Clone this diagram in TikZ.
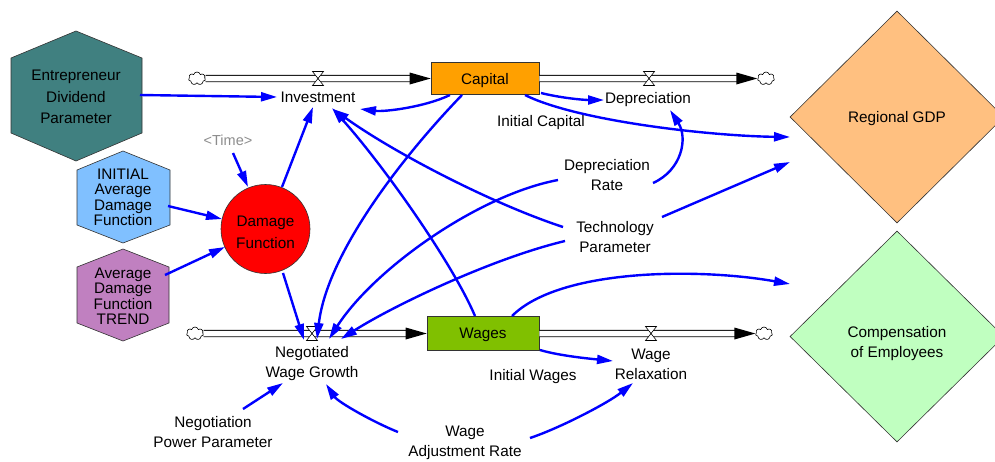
\documentclass[tikz,border=0pt]{standalone}
\usepackage{fontspec}
\setmainfont{Liberation Sans}
\usetikzlibrary{arrows.meta,shapes.geometric,shapes.symbols}
\definecolor{edpcol}{HTML}{408080}
\definecolor{initcol}{HTML}{80C0FF}
\definecolor{trendcol}{HTML}{C080C0}
\definecolor{capcol}{HTML}{FFA000}
\definecolor{wagecol}{HTML}{80C000}
\definecolor{gdpcol}{HTML}{FFC080}
\definecolor{compcol}{HTML}{C0FFC0}
\definecolor{linkcol}{HTML}{0000FF}
\begin{document}
\begin{tikzpicture}[x=1pt,y=-1pt,
  lbl/.style={inner sep=0pt, align=center, font=\fontsize{15.3}{20}\selectfont, text=black},
  onelbl/.style={inner sep=0pt, font=\fontsize{15.3}{20}\selectfont, text=black, text depth=0pt},
  link/.style={draw=linkcol, line width=2.4pt, -{Triangle[length=16pt,width=9pt]}},
  pipe/.style={draw=black, line width=0.9pt, double=white, double distance=5.5pt},
  valvestyle/.style={draw=black, fill=white, line width=0.6pt},
  cloudnode/.style={cloud, cloud puffs=7, draw, fill=white, line width=0.6pt, minimum width=17pt, minimum height=13pt, inner sep=0pt, aspect=1.3},
  stockbox/.style={draw=black!80, line width=0.7pt, inner sep=0pt, font=\fontsize{15.3}{20}\selectfont, text depth=0pt},
  shapeline/.style={draw=black!80, line width=0.6pt}
]
\useasboundingbox (0,0) rectangle (995,461);

% diamonds
\node[diamond, shapeline, fill=gdpcol, minimum width=214pt, minimum height=212pt, inner sep=0pt, font=\fontsize{15.3}{20}\selectfont, text depth=0pt] (gdp) at (897,117) {Regional GDP};
\node[diamond, shapeline, fill=compcol, minimum width=214pt, minimum height=211pt, inner sep=0pt] (compd) at (897,336.5) {};
\node[lbl] (comp) at (897,344) {Compensation\\of Employees};

% hexagons
\draw[shapeline, fill=edpcol] (76,31) -- (142,58) -- (142,133) -- (76,161) -- (11,133) -- (11,58) -- cycle;
\node[lbl, font=\fontsize{15.3}{21.5}\selectfont] (edp) at (76,97) {Entrepreneur\\Dividend\\Parameter};
\draw[shapeline, fill=initcol] (123,151) -- (170,170) -- (170,225) -- (123,243) -- (77,225) -- (77,170) -- cycle;
\node[lbl, font=\fontsize{15.3}{15.5}\selectfont] (init) at (123,197.5) {INITIAL\\Average\\Damage\\Function};
\draw[shapeline, fill=trendcol] (123,249) -- (169,267) -- (169,323) -- (123,341) -- (77,323) -- (77,267) -- cycle;
\node[lbl, font=\fontsize{15.3}{15.5}\selectfont] (trend) at (123,296) {Average\\Damage\\Function\\TREND};

% damage function
\node[circle, shapeline, fill=red, minimum size=89pt, inner sep=0pt] (dmg) at (265.5,229) {};
\node[lbl, font=\fontsize{15.3}{22}\selectfont] (dmgtext) at (265.5,232) {Damage\\Function};
\node[lbl, text=black!45, font=\fontsize{14.5}{18}\selectfont] (time) at (228,140) {<Time>};

% stocks
\node[stockbox, fill=capcol, minimum width=108pt, minimum height=32pt] (cap) at (485,78.5) {Capital};
\node[stockbox, fill=wagecol, minimum width=112pt, minimum height=34pt] (wages) at (483,333.5) {Wages};

% clouds
\node[cloudnode] (c1) at (197,78.5) {};
\node[cloudnode] (c2) at (766,78.5) {};
\node[cloudnode] (c3) at (195,333.5) {};
\node[cloudnode] (c4) at (764,333.5) {};

% pipes
\draw[pipe] (c1.east) -- ([xshift=-19pt]cap.west);
\fill ([shift={(-21,-6)}]cap.west) -- (cap.west) -- ([shift={(-21,6)}]cap.west) -- cycle;
\draw[pipe] (cap.east) -- ([xshift=-19pt]c2.west);
\fill ([shift={(-21,-6)}]c2.west) -- (c2.west) -- ([shift={(-21,6)}]c2.west) -- cycle;
\draw[pipe] (c3.east) -- ([xshift=-19pt]wages.west);
\fill ([shift={(-21,-6)}]wages.west) -- (wages.west) -- ([shift={(-21,6)}]wages.west) -- cycle;
\draw[pipe] (wages.east) -- ([xshift=-19pt]c4.west);
\fill ([shift={(-21,-6)}]c4.west) -- (c4.west) -- ([shift={(-21,6)}]c4.west) -- cycle;

% valves
\coordinate (v1) at (318,78.5);
\coordinate (v2) at (649,78.5);
\coordinate (v3) at (312,333.5);
\coordinate (v4) at (651,333.5);
\foreach \v in {v1,v2,v3,v4}{
  \draw[valvestyle] ([shift={(-5.5,-7)}]\v) -- ([shift={(5.5,-7)}]\v) -- ([shift={(-5.5,7)}]\v) -- ([shift={(5.5,7)}]\v) -- cycle;
}

% labels
\node[onelbl] (inv) at (318,97) {Investment};
\node[onelbl] (dep) at (648,98) {Depreciation};
\node[onelbl] (icap) at (541,121) {Initial Capital};
\node[lbl] (deprate) at (607,175.5) {Depreciation\\Rate};
\node[lbl] (tech) at (615,237) {Technology\\Parameter};
\node[lbl] (nwg) at (312,364) {Negotiated\\Wage Growth};
\node[lbl] (wrel) at (651,364) {Wage\\Relaxation};
\node[onelbl] (iwag) at (533,375) {Initial Wages};
\node[lbl] (npp) at (213,432) {Negotiation\\Power Parameter};
\node[lbl] (war) at (465,443) {Wage\\Adjustment Rate};

% links
\draw[link] ([shift={(64,-2)}]edp.center) -- ([shift={(-41,0)}]inv.center);
\draw[link] ([shift={(-35,16.5)}]cap.center) .. controls +(-25,12) and +(25,3) .. ([shift={(42,12)}]inv.center);
\draw[link] ([shift={(16.5,-42)}]dmg.center) -- ([shift={(-5,10)}]inv.center);
\draw[link] ([shift={(-8,-17.5)}]wages.center) .. controls +(-22,-52) and +(52,58) .. ([shift={(14,11)}]inv.center);
\draw[link] ([shift={(-52,-10)}]tech.center) .. controls +(-73,-24) and +(60,43) .. ([shift={(15,12)}]inv.center);
\draw[link] ([shift={(-23,16.5)}]cap.center) .. controls +(-60,62) and +(10,-85) .. ([shift={(5,-25)}]nwg.center);
\draw[link] ([shift={(17.5,44)}]dmg.center) -- ([shift={(-8,-24)}]nwg.center);
\draw[link] ([shift={(-49,4.5)}]deprate.center) .. controls +(-80,15) and +(45,-70) .. ([shift={(17,-25)}]nwg.center);
\draw[link] ([shift={(-50,4)}]tech.center) .. controls +(-75,18) and +(50,-32) .. ([shift={(29,-25)}]nwg.center);
\draw[link] ([shift={(46,7.5)}]deprate.center) .. controls +(29,-13) and +(18,28) .. ([shift={(22,12)}]dep.center);
\draw[link] ([shift={(56,14.5)}]cap.center) .. controls +(20,5) and +(-20,0) .. ([shift={(-44,2)}]dep.center);
\draw[link] ([shift={(40,16.5)}]cap.center) .. controls +(52,26) and +(-80,-1) .. ([shift={(-107,20)}]gdp.center);
\draw[link] ([shift={(47,-20)}]tech.center) -- ([shift={(-107,45)}]gdp.center);
\draw[link] ([shift={(29,-17.5)}]wages.center) .. controls +(48,-48) and +(-90,-16) .. ([shift={(-107,-52.5)}]compd.center);
\draw[link] ([shift={(57,16.5)}]wages.center) .. controls +(20,6) and +(-20,-2) .. ([shift={(-38,-3)}]wrel.center);
\draw[link] ([shift={(65,-5)}]war.center) .. controls +(30,-10) and +(-25,20) .. ([shift={(-18,19)}]wrel.center);
\draw[link] ([shift={(-67,-11)}]war.center) .. controls +(-25,-10) and +(12,18) .. ([shift={(14,20)}]nwg.center);
\draw[link] ([shift={(30,-23)}]npp.center) -- ([shift={(-29,19)}]nwg.center);
\draw[link] ([shift={(45,8.5)}]init.center) -- ([shift={(-43.5,-10)}]dmg.center);
\draw[link] ([shift={(42,-21)}]trend.center) -- ([shift={(-40.5,18)}]dmg.center);
\draw[link] ([shift={(5,13)}]time.center) -- ([shift={(-17.5,-42)}]dmg.center);
\end{tikzpicture}
\end{document}
